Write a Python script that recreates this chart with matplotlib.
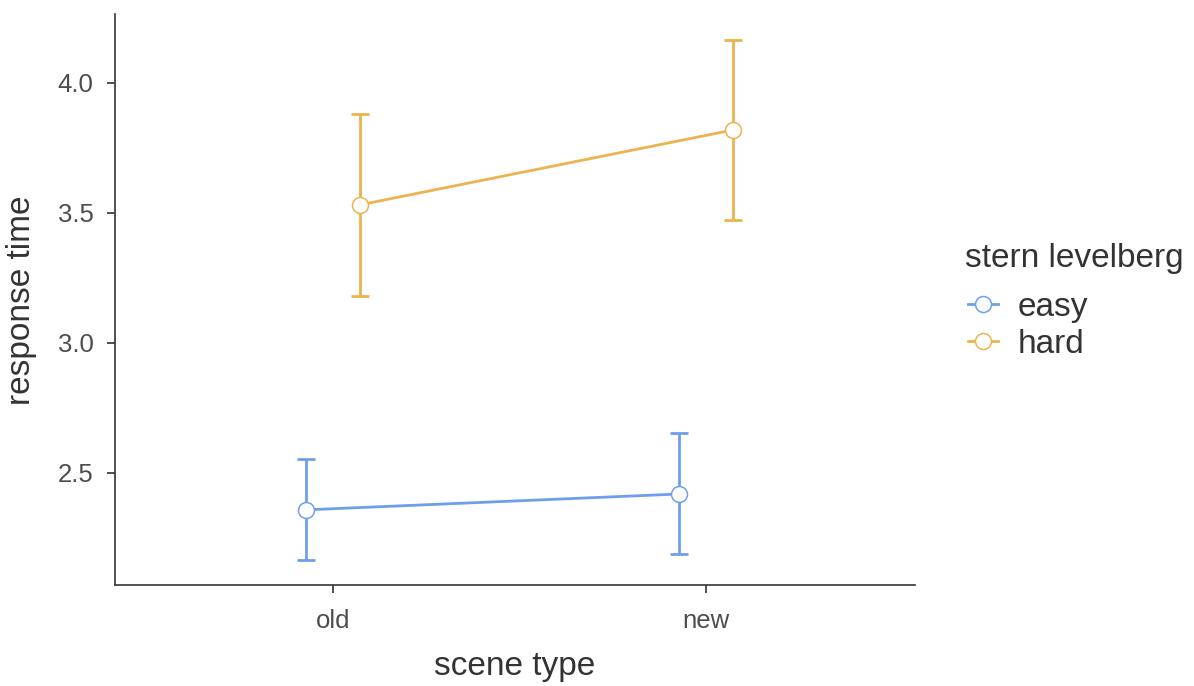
import matplotlib
matplotlib.use("Agg")
import matplotlib.pyplot as plt
from matplotlib.lines import Line2D
import numpy as np

categories = ["old", "new"]
groups = ["easy", "hard"]
easy_mean = [2.358, 2.419]
easy_low = [2.165, 2.188]
easy_high = [2.552, 2.654]
hard_mean = [3.531, 3.819]
hard_low = [3.181, 3.473]
hard_high = [3.881, 4.165]
colors = {"easy": "#6F9FEA", "hard": "#EBB44F"}

plt.rcParams['font.family'] = ['Liberation Sans', 'DejaVu Sans']

fig = plt.figure(figsize=(11.94, 6.86), dpi=100)
ax = fig.add_axes([115/1194, 1-585/686, 800/1194, (585-14)/686])

x = np.arange(len(categories))
dodge = 0.0724
data = {"easy": (easy_mean, easy_low, easy_high, -dodge),
        "hard": (hard_mean, hard_low, hard_high, dodge)}
handles = []
for g in groups:
    m, lo, hi, off = data[g]
    m = np.array(m); lo = np.array(lo); hi = np.array(hi)
    xs = x + off
    c = colors[g]
    ax.errorbar(xs, m, yerr=[m - lo, hi - m], fmt='none', ecolor=c,
                elinewidth=2.0, capsize=6.5, capthick=2.0, zorder=2)
    ax.plot(xs, m, color=c, lw=2.0, zorder=3)
    ax.plot(xs, m, 'o', ms=11.5, mfc='white', mec=c, mew=1.1, zorder=4)
    handles.append(Line2D([0], [0], color=c, lw=2.0, marker='o', ms=11.5,
                          mfc='white', mec=c, mew=1.1, label=g))

ax.set_xlim(-0.584, 1.560)
ax.set_ylim(2.069, 4.265)
ax.set_xticks(x)
ax.set_xticklabels(categories)
ax.set_yticks([2.5, 3.0, 3.5, 4.0])
ax.set_yticklabels(["2.5", "3.0", "3.5", "4.0"])
for s in ["top", "right"]:
    ax.spines[s].set_visible(False)
for s in ["left", "bottom"]:
    ax.spines[s].set_color("#333333")
    ax.spines[s].set_linewidth(1.2)
ax.tick_params(axis='both', colors="#333333", labelcolor="#4D4D4D",
               labelsize=18.5, length=6, width=1.2)
ax.tick_params(axis='x', pad=11)
ax.tick_params(axis='y', pad=9.5)
ax.set_xlabel("scene type", fontsize=24, color="#333333")
ax.set_ylabel("response time", fontsize=24, color="#333333")
ax.xaxis.set_label_coords((515-115)/800, (585-667)/571)
ax.yaxis.set_label_coords((22-115)/800, (585-300)/571)
ax.xaxis.label.set_va('center')
ax.yaxis.label.set_va('center')

fig.text(965/1194, 1-259/686, "stern levelberg", fontsize=24, color="#333333",
         ha='left', va='center')
leg = fig.legend(handles=handles, loc="upper left",
                 bbox_to_anchor=(968/1194, 1-292/686), frameon=False,
                 fontsize=24, handlelength=0.9,
                 handletextpad=0.6, labelspacing=0.17,
                 borderaxespad=0, borderpad=0)
for t in leg.get_texts():
    t.set_color("#333333")

fig.savefig("out.png", dpi=100, facecolor="white")
